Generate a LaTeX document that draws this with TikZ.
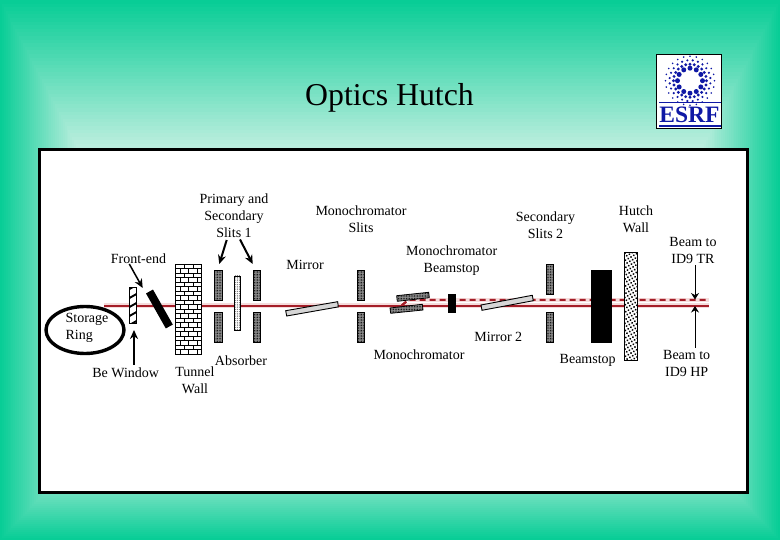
\documentclass[tikz,border=0pt]{standalone}
\usepackage{fontspec}
\setmainfont{Liberation Serif}
\usetikzlibrary{patterns,patterns.meta,arrows.meta,shapes.geometric}
\definecolor{bgedge}{RGB}{8,205,150}
\definecolor{bgmid}{RGB}{232,246,240}
\definecolor{beam}{RGB}{165,30,40}
\definecolor{halo}{RGB}{245,220,220}
\definecolor{esrf}{RGB}{15,25,165}
\tikzset{
 x=1pt,y=-1pt,
 lbl/.style={font=\fontsize{14}{17}\selectfont,align=center,inner sep=0pt,text=black},
 ttl/.style={font=\fontsize{31.8}{34}\selectfont,inner sep=0pt},
 slit/.style={fill=black!42,postaction={pattern={Dots[distance=1.6pt,radius=.5pt]},pattern color=black},draw=black,line width=.8pt},
 pale/.style={fill=white,postaction={pattern={Dots[distance=1.8pt,radius=.42pt]},pattern color=black!85},draw=black,line width=.9pt},
 heavy/.style={fill=white,postaction={pattern={Dots[distance=3.2pt,angle=30,radius=1.05pt]},pattern color=black},draw=black,line width=.8pt},
 mirror/.style={fill=black!16,draw=black,line width=.9pt},
 ptr/.style={-{Stealth[length=9pt,width=8pt]},line width=2pt},
 midptr/.style={-{Stealth[length=9pt,width=8pt]},line width=1.5pt},
 thinptr/.style={-{Stealth[length=6.5pt,width=8pt]},line width=.9pt},
 beamhalo/.style={halo,line width=4.5pt},
 beamline/.style={beam,line width=2.2pt},
 beamdash/.style={beam,line width=2pt,dash pattern=on 6pt off 4pt},
}
\begin{document}
\begin{tikzpicture}
\useasboundingbox (0,0) rectangle (780,540);
% background: asymmetrical concentric gradient
\fill[bgedge] (0,0) rectangle (780,540);
\foreach \i in {2,4,...,100}{
  \pgfmathsetmacro\tl{.95*\i}
  \pgfmathsetmacro\tt{1.8*\i}
  \pgfmathsetmacro\tb{1.0*\i}
  \fill[bgmid!\i!bgedge] (\tl,\tt) rectangle (780-\tl,540-\tb);
}
% frame
\draw[fill=white,line width=3pt] (39.3,150) rectangle (747.5,492.3);
\node[ttl] (title) at (389.5,97.5) {Optics Hutch};
% logo
\draw[fill=white,line width=1pt] (656.5,54.5) rectangle (721.5,128.7);
\foreach \r/\n/\s/\o in {12.5/12/2.5/0,16.5/24/1.6/0,20.5/24/1.2/7.5,24.5/24/.9/0}{
  \foreach \k in {1,...,\n}{
    \fill[esrf] ({690+\r*cos(360*\k/\n+\o)},{80.7+\r*sin(360*\k/\n+\o)}) circle (\s);
  }
}
\draw[esrf,line width=1.2pt] (659,102.5) -- (720.5,102.5);
\draw[esrf,line width=1.8pt] (659,126) -- (720.5,126);
\node[font=\bfseries\fontsize{23.5}{24}\selectfont,text=esrf,inner sep=0pt] (logotext) at (689.5,114.7) {ESRF};
% beams
\coordinate (beamstart) at (104,305.7);
\coordinate (beamend) at (709,305.7);
\coordinate (kink) at (401.7,305.5);
\coordinate (dashstart) at (408.3,299.8);
\coordinate (dashend) at (709,299.8);
\draw[beamhalo] (beamstart) -- (beamend);
\draw[beamhalo,line width=3.6pt] (dashstart) -- (dashend);
\draw[beamline] (beamstart) -- (beamend);
\draw[beamdash] (kink) -- (dashstart) -- (dashend);
% storage ring
\node[draw=black,ellipse,line width=3.4pt,minimum width=78pt,minimum height=47pt,inner sep=0pt] (ring) at (85,330) {};
% Be window
\draw[fill=white,draw=black,line width=.8pt] (129.5,287.5) rectangle (136.7,323.3);
\begin{scope}
\clip (129.5,287.5) rectangle (136.7,323.3);
\foreach \k in {0,9,...,54}{
  \draw[line width=1.9pt] (126,{291+\k}) -- (140,{283+\k});
}
\end{scope}
\draw[line width=.8pt] (129.5,287.5) rectangle (136.7,323.3);
% front-end shutter
\coordinate (barA) at (149.5,291.5);
\coordinate (barB) at (169.3,326.5);
\draw[line width=8pt] (barA) -- (barB);
% tunnel wall
\draw[fill=white,line width=.8pt] (175.7,264.3) rectangle (201.7,354.3);
\foreach \j in {1,...,19}{
  \draw[line width=.7pt] (175.7,{264.3+4.5*\j}) -- (201.7,{264.3+4.5*\j});
}
\foreach \j in {0,...,19}{
  \pgfmathtruncatemacro\odd{mod(\j,2)}
  \ifnum\odd=0
    \foreach \xx in {184.4,193}{ \draw[line width=.7pt] (\xx,{264.3+4.5*\j}) -- (\xx,{264.3+4.5*\j+4.5}); }
  \else
    \foreach \xx in {180,188.7,197.4}{ \draw[line width=.7pt] (\xx,{264.3+4.5*\j}) -- (\xx,{264.3+4.5*\j+4.5}); }
  \fi
}
% slits 1
\draw[slit] (214.3,270.3) rectangle (222,300.7);
\draw[slit] (214.3,312.3) rectangle (222,342.7);
\draw[slit] (253.3,270.3) rectangle (260.7,300.7);
\draw[slit] (253.3,312.3) rectangle (260.7,342.7);
% absorber
\draw[pale] (234.7,276) rectangle (240.7,330.7);
% mirror 1
\draw[mirror] (285.7,310.7) -- (337.7,301.7) -- (338.3,306.9) -- (286.7,316) -- cycle;
% mono slits
\draw[slit] (357.3,270.3) rectangle (364.7,300.7);
\draw[slit] (357.3,312.3) rectangle (364.7,342.3);
% crystals
\draw[slit] (396.7,295.7) -- (428.7,292.3) -- (429.3,297.7) -- (397.3,301.3) -- cycle;
\draw[slit] (390,308) -- (422.3,304.3) -- (423,310) -- (390.7,313.3) -- cycle;
\draw[beamdash] (kink) -- (dashstart);
% mono beamstop
\fill[black] (448,294) rectangle (455.7,312.7);
% mirror 2
\draw[mirror] (481,305) -- (532.3,295.3) -- (533.3,300.7) -- (482,310.3) -- cycle;
% slits 2
\draw[slit] (546.3,264.3) rectangle (553,294.3);
\draw[slit] (546.3,312.3) rectangle (553,342.3);
% beamstop
\fill[black] (591,270) rectangle (612,342.7);
% hutch wall
\draw[heavy] (624.3,252.3) rectangle (637.7,360);
% labels
\node[lbl] (primary) at (234,215.5) {Primary and\\Secondary\\Slits 1};
\node[lbl] (frontend) at (138.5,258.5) {Front-end};
\node[lbl,align=left] (storage) at (87,327.5) {Storage\\Ring};
\node[lbl] (bewin) at (125.7,372.5) {Be Window};
\node[lbl] (tunnel) at (195,380.5) {Tunnel\\Wall};
\node[lbl] (absorber) at (241,360.5) {Absorber};
\node[lbl] (mirrorA) at (305,264.5) {Mirror};
\node[lbl] (monoslits) at (361,219) {Monochromator\\Slits};
\node[lbl] (monostop) at (451.7,261) {Monochromator\\Beamstop};
\node[lbl] (mono) at (419,354.5) {Monochromator};
\node[lbl] (mirrorB) at (498.3,337) {Mirror 2};
\node[lbl] (sec) at (545.5,225) {Secondary\\Slits 2};
\node[lbl] (stop) at (587.7,360.5) {Beamstop};
\node[lbl] (hutch) at (636,219) {Hutch\\Wall};
\node[lbl] (tr) at (693,250) {Beam to\\ID9 TR};
\node[lbl] (hp) at (686.7,363) {Beam to\\ID9 HP};
% pointers
\coordinate (fromA) at (226.7,240);
\coordinate (toA) at (219.3,264);
\coordinate (fromB) at (240,239.5);
\coordinate (toB) at (252.7,264);
\coordinate (fromF) at (129.3,264);
\coordinate (toF) at (142.7,288);
\coordinate (fromW) at (134,365);
\coordinate (toW) at (134,330);
\coordinate (fromT) at (695,265);
\coordinate (toT) at (695,299.5);
\coordinate (fromH) at (695,348);
\coordinate (toH) at (695,306);
\draw[ptr] (fromA) -- (toA);
\draw[ptr] (fromB) -- (toB);
\draw[midptr] (fromF) -- (toF);
\draw[midptr] (fromW) -- (toW);
\draw[thinptr] (fromT) -- (toT);
\draw[thinptr] (fromH) -- (toH);
\end{tikzpicture}
\end{document}
